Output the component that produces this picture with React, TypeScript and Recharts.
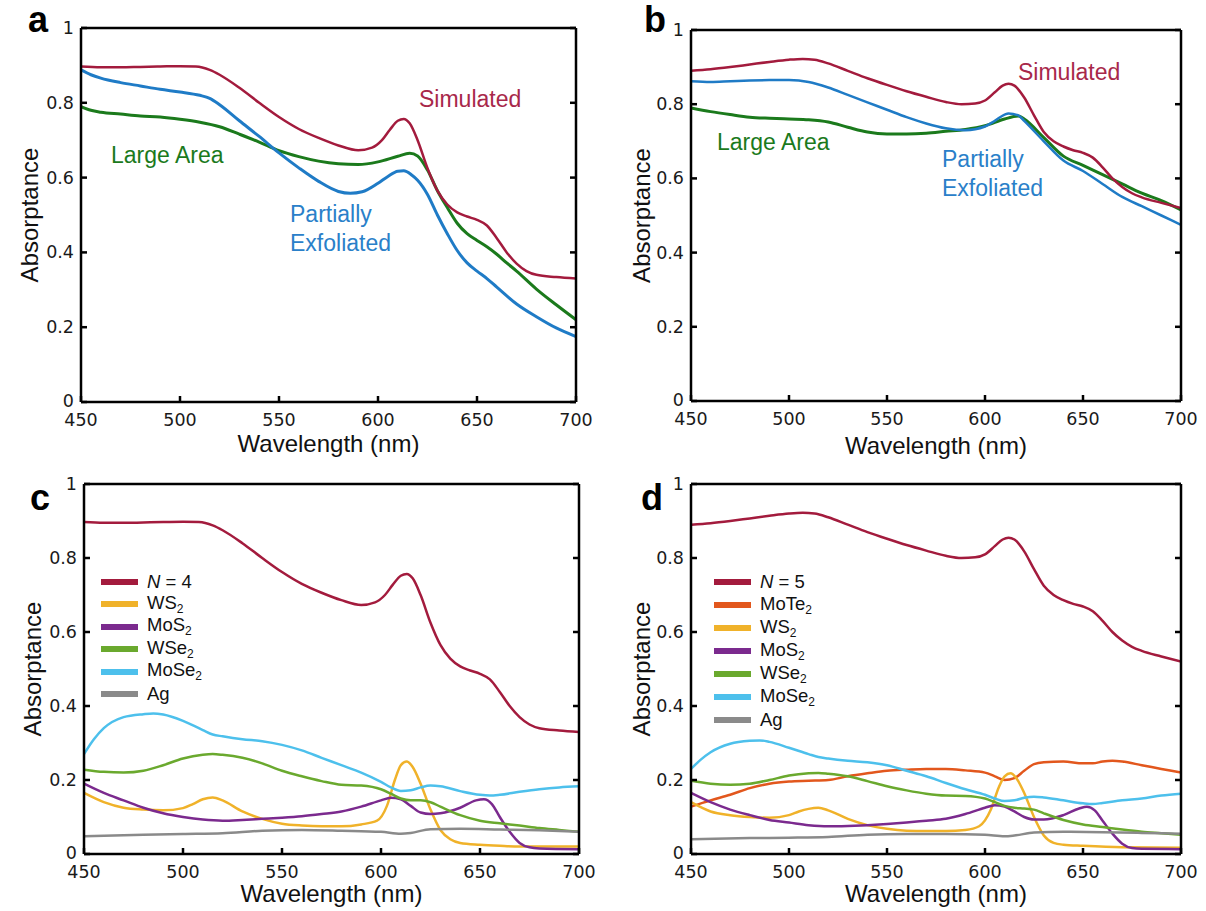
import React from "react";
import { LineChart, Line, XAxis, YAxis, Legend } from "recharts";

type Pt = [number, number];

const WAVELENGTH_TICKS = [450, 500, 550, 600, 650, 700];
const ABS_TICKS = [0, 0.2, 0.4, 0.6, 0.8, 1];

// simulated stacks (shared by a/c and b/d)
const SIM_N4: Pt[] = [
  [450, 0.897], [460, 0.895], [470, 0.895], [480, 0.896], [490, 0.897], [500, 0.898], [508, 0.897],
  [515, 0.888], [520, 0.875], [530, 0.84], [540, 0.8], [550, 0.762], [560, 0.73], [570, 0.706],
  [580, 0.686], [590, 0.673], [597, 0.68], [602, 0.7], [606, 0.728], [610, 0.752], [613, 0.757],
  [616, 0.745], [620, 0.7], [625, 0.625], [630, 0.565], [635, 0.528], [640, 0.507], [645, 0.496],
  [650, 0.487], [655, 0.472], [660, 0.438], [665, 0.4], [670, 0.37], [675, 0.35], [680, 0.34],
  [690, 0.334], [700, 0.33],
];
const SIM_N5: Pt[] = [
  [450, 0.89], [460, 0.894], [470, 0.9], [480, 0.907], [490, 0.914], [500, 0.92], [507, 0.922],
  [513, 0.92], [520, 0.91], [530, 0.89], [540, 0.87], [550, 0.852], [560, 0.835], [570, 0.82],
  [580, 0.806], [588, 0.8], [595, 0.802], [600, 0.81], [605, 0.832], [609, 0.85], [612, 0.855],
  [615, 0.85], [620, 0.818], [625, 0.77], [630, 0.725], [635, 0.7], [640, 0.686], [645, 0.676],
  [650, 0.669], [655, 0.656], [660, 0.63], [665, 0.6], [670, 0.577], [675, 0.56], [680, 0.549],
  [690, 0.534], [700, 0.52],
];

// measured spectra
const LARGE_A: Pt[] = [
  [450, 0.79], [455, 0.78], [460, 0.775], [470, 0.77], [480, 0.765], [490, 0.762], [500, 0.756],
  [510, 0.748], [520, 0.736], [530, 0.716], [540, 0.695], [550, 0.672], [560, 0.656], [570, 0.644],
  [580, 0.637], [590, 0.635], [600, 0.642], [610, 0.657], [616, 0.665], [620, 0.658], [625, 0.62],
  [630, 0.565], [635, 0.52], [640, 0.478], [645, 0.45], [650, 0.432], [655, 0.415], [660, 0.395],
  [665, 0.372], [670, 0.35], [680, 0.302], [690, 0.26], [700, 0.22],
];
const PARTIAL_A: Pt[] = [
  [450, 0.888], [455, 0.875], [460, 0.866], [470, 0.854], [480, 0.845], [490, 0.836], [500, 0.829],
  [510, 0.82], [515, 0.812], [520, 0.795], [530, 0.752], [540, 0.71], [550, 0.666], [560, 0.626],
  [570, 0.59], [580, 0.563], [586, 0.558], [592, 0.562], [600, 0.585], [605, 0.603], [610, 0.617],
  [613, 0.618], [617, 0.607], [620, 0.593], [625, 0.555], [630, 0.5], [635, 0.45], [640, 0.405],
  [645, 0.372], [650, 0.35], [655, 0.33], [660, 0.307], [670, 0.262], [680, 0.228], [690, 0.198],
  [700, 0.175],
];
const LARGE_B: Pt[] = [
  [450, 0.79], [460, 0.78], [470, 0.772], [480, 0.765], [490, 0.762], [500, 0.76], [510, 0.758],
  [520, 0.752], [530, 0.738], [540, 0.725], [550, 0.72], [560, 0.72], [570, 0.722], [580, 0.727],
  [590, 0.732], [600, 0.742], [610, 0.76], [617, 0.768], [620, 0.76], [630, 0.71], [640, 0.66],
  [650, 0.635], [660, 0.61], [670, 0.585], [680, 0.56], [690, 0.54], [700, 0.515],
];
const PARTIAL_B: Pt[] = [
  [450, 0.862], [460, 0.86], [470, 0.862], [480, 0.864], [490, 0.865], [500, 0.865], [510, 0.86],
  [520, 0.845], [530, 0.825], [540, 0.805], [550, 0.785], [560, 0.765], [570, 0.748], [580, 0.735],
  [590, 0.73], [600, 0.74], [605, 0.755], [610, 0.772], [612, 0.775], [617, 0.77], [620, 0.755],
  [630, 0.7], [640, 0.648], [650, 0.62], [660, 0.585], [670, 0.55], [680, 0.525], [690, 0.5],
  [700, 0.475],
];

// per-layer absorption, N = 4
const WS2_C: Pt[] = [
  [450, 0.165], [460, 0.14], [470, 0.125], [480, 0.12], [490, 0.118], [500, 0.124], [505, 0.135],
  [510, 0.148], [515, 0.153], [520, 0.145], [530, 0.115], [540, 0.095], [550, 0.082], [560, 0.077],
  [570, 0.075], [580, 0.075], [590, 0.08], [598, 0.09], [603, 0.13], [607, 0.2], [610, 0.24],
  [613, 0.25], [616, 0.235], [620, 0.19], [625, 0.12], [630, 0.065], [635, 0.04], [640, 0.03],
  [650, 0.025], [660, 0.022], [670, 0.02], [700, 0.02],
];
const MOS2_C: Pt[] = [
  [450, 0.19], [460, 0.165], [470, 0.145], [480, 0.125], [490, 0.11], [500, 0.1], [510, 0.093],
  [520, 0.09], [530, 0.092], [540, 0.095], [550, 0.098], [560, 0.102], [570, 0.108], [580, 0.115],
  [590, 0.128], [600, 0.145], [605, 0.152], [610, 0.148], [615, 0.13], [620, 0.112], [625, 0.108],
  [630, 0.11], [640, 0.125], [648, 0.145], [652, 0.148], [656, 0.135], [660, 0.1], [665, 0.06],
  [670, 0.03], [675, 0.018], [680, 0.015], [700, 0.013],
];
const WSE2_C: Pt[] = [
  [450, 0.228], [460, 0.222], [470, 0.22], [480, 0.225], [490, 0.24], [500, 0.258], [510, 0.268],
  [515, 0.27], [520, 0.268], [530, 0.26], [540, 0.245], [550, 0.225], [560, 0.21], [570, 0.197],
  [580, 0.187], [590, 0.185], [600, 0.175], [605, 0.163], [610, 0.15], [615, 0.145], [620, 0.145],
  [625, 0.14], [630, 0.128], [640, 0.105], [650, 0.09], [660, 0.083], [670, 0.077], [680, 0.07],
  [690, 0.065], [700, 0.06],
];
const MOSE2_C: Pt[] = [
  [450, 0.27], [455, 0.31], [460, 0.34], [470, 0.37], [480, 0.378], [485, 0.38], [490, 0.377],
  [500, 0.36], [510, 0.335], [515, 0.323], [520, 0.318], [530, 0.31], [540, 0.305], [550, 0.295],
  [560, 0.28], [570, 0.26], [580, 0.24], [590, 0.22], [600, 0.195], [605, 0.18], [610, 0.17],
  [615, 0.172], [620, 0.18], [625, 0.185], [630, 0.183], [640, 0.17], [650, 0.16], [655, 0.158],
  [660, 0.16], [670, 0.168], [680, 0.175], [690, 0.18], [700, 0.183],
];
const AG_C: Pt[] = [
  [450, 0.048], [480, 0.052], [500, 0.054], [520, 0.056], [540, 0.063], [560, 0.065], [580, 0.063],
  [600, 0.06], [610, 0.055], [615, 0.057], [625, 0.067], [640, 0.068], [660, 0.066], [680, 0.064],
  [700, 0.06],
];

// per-layer absorption, N = 5
const MOTE2_D: Pt[] = [
  [450, 0.128], [460, 0.145], [470, 0.16], [480, 0.178], [490, 0.19], [500, 0.196], [510, 0.198],
  [520, 0.2], [530, 0.21], [540, 0.218], [550, 0.225], [560, 0.228], [570, 0.23], [580, 0.23],
  [590, 0.226], [600, 0.22], [605, 0.21], [610, 0.2], [615, 0.205], [620, 0.225], [625, 0.243],
  [630, 0.248], [640, 0.25], [650, 0.245], [655, 0.245], [660, 0.25], [665, 0.252], [670, 0.25],
  [680, 0.24], [690, 0.23], [700, 0.22],
];
const WS2_D: Pt[] = [
  [450, 0.14], [460, 0.115], [470, 0.105], [480, 0.1], [490, 0.098], [500, 0.105], [505, 0.115],
  [510, 0.122], [515, 0.125], [520, 0.118], [530, 0.095], [540, 0.078], [550, 0.068], [560, 0.063],
  [570, 0.062], [580, 0.062], [590, 0.065], [597, 0.075], [603, 0.12], [607, 0.18], [610, 0.21],
  [613, 0.218], [616, 0.205], [620, 0.165], [625, 0.1], [630, 0.05], [635, 0.03], [640, 0.025],
  [650, 0.022], [670, 0.018], [700, 0.017],
];
const MOS2_D: Pt[] = [
  [450, 0.165], [460, 0.14], [470, 0.12], [480, 0.105], [490, 0.092], [500, 0.085], [510, 0.078],
  [520, 0.075], [530, 0.076], [540, 0.078], [550, 0.081], [560, 0.085], [570, 0.09], [580, 0.095],
  [590, 0.108], [600, 0.125], [605, 0.132], [610, 0.128], [615, 0.115], [620, 0.1], [625, 0.093],
  [630, 0.093], [640, 0.105], [648, 0.123], [652, 0.128], [656, 0.118], [660, 0.09], [665, 0.055],
  [670, 0.028], [675, 0.016], [680, 0.014], [700, 0.013],
];
const WSE2_D: Pt[] = [
  [450, 0.198], [460, 0.19], [470, 0.187], [480, 0.19], [490, 0.2], [500, 0.212], [510, 0.218],
  [515, 0.219], [520, 0.217], [530, 0.21], [540, 0.197], [550, 0.183], [560, 0.172], [570, 0.163],
  [580, 0.158], [590, 0.157], [600, 0.15], [605, 0.14], [610, 0.13], [615, 0.125], [620, 0.123],
  [625, 0.12], [630, 0.11], [640, 0.092], [650, 0.08], [660, 0.073], [670, 0.066], [680, 0.06],
  [690, 0.056], [700, 0.052],
];
const MOSE2_D: Pt[] = [
  [450, 0.23], [455, 0.255], [460, 0.275], [470, 0.298], [480, 0.306], [485, 0.307], [490, 0.303],
  [500, 0.287], [510, 0.27], [515, 0.262], [520, 0.258], [530, 0.252], [540, 0.248], [550, 0.24],
  [560, 0.225], [570, 0.21], [580, 0.192], [590, 0.175], [600, 0.16], [605, 0.15], [610, 0.143],
  [615, 0.145], [620, 0.152], [625, 0.155], [630, 0.153], [640, 0.145], [650, 0.137], [655, 0.135],
  [660, 0.138], [670, 0.145], [680, 0.15], [690, 0.158], [700, 0.163],
];
const AG_D: Pt[] = [
  [450, 0.04], [480, 0.043], [500, 0.044], [520, 0.046], [540, 0.052], [560, 0.054], [580, 0.054],
  [600, 0.052], [610, 0.048], [615, 0.05], [625, 0.058], [640, 0.06], [660, 0.059], [680, 0.057],
  [700, 0.055],
];

const C = {
  sim: "#a31b3d",
  large: "#1b7a1c",
  partial: "#1f7bc6",
  ws2: "#f0b22a",
  mos2: "#7b2a8e",
  wse2: "#6aa92e",
  mose2: "#4dc0ec",
  ag: "#8a8a8a",
  mote2: "#e2571d",
};

const FONT = '"Liberation Sans", Arial, sans-serif';
const TICK_FONT = '"DejaVu Sans", sans-serif';
const TICK = 6; // inward tick length
const YW = 60;
const XH = 50;
const FRAME = { stroke: "#000", strokeWidth: 2.5 };
const TICK_LINE = { stroke: "#000", strokeWidth: 2.5 };

type Series = { name: string; color: string; points: Pt[]; width?: number };
type Note = { text: string; x: number; y: number; color: string };
type Box = { left: number; top: number; width: number; height: number };
type PanelProps = {
  letter: string;
  letterPos: [number, number];
  frame: Box;
  plot: { x0: number; y0: number; x1: number; y1: number };
  series: Series[];
  notes?: Note[];
  legendAt?: [number, number];
  legendRow?: number;
  yTitleX: number;
  xTitleY: number;
};

const toRows = (pts: Pt[]) => pts.map(([x, y]) => ({ x, y }));

// with a negative tickSize the tick lines point into the plot, so the
// label anchor handed to these sits TICK px inside the frame
const BottomTick = (p: any) => (
  <text x={p.x} y={p.y + TICK + 24} textAnchor="middle" fontSize={17.5} fontFamily={TICK_FONT} fill="#1a1a1a">
    {p.payload.value}
  </text>
);
const LeftTick = (p: any) => (
  <text
    x={p.x - TICK - 7}
    y={p.y + (p.payload.value === 0 ? 5 : 6)}
    textAnchor="end"
    fontSize={17.5}
    fontFamily={TICK_FONT}
    fill="#1a1a1a"
  >
    {String(p.payload.value)}
  </text>
);
// top / right frame: tick marks only (tick={false} would drop the marks too)
const NoLabel = () => <g />;

function formatName(name: string) {
  const n = name.match(/^N = (\d)$/);
  if (n) {
    return (
      <>
        <i>N</i> = {n[1]}
      </>
    );
  }
  if (name.endsWith("2")) {
    return (
      <>
        {name.slice(0, -1)}
        <sub style={{ fontSize: 12, verticalAlign: -4 }}>2</sub>
      </>
    );
  }
  return name;
}

const makeLegend = (series: Series[], row: number) => () => (
  <div style={{ fontFamily: FONT, fontSize: 18.5, color: "#111" }}>
    {series.map((s) => (
      <div key={s.name} style={{ display: "flex", alignItems: "center", height: row }}>
        <span style={{ display: "inline-block", width: 37, height: 6, background: s.color, marginRight: 9 }} />
        <span style={{ lineHeight: 1 }}>{formatName(s.name)}</span>
      </div>
    ))}
  </div>
);

function Panel({ letter, letterPos, frame, plot, series, notes = [], legendAt, legendRow = 22.5, yTitleX, xTitleY }: PanelProps) {
  // the top / right axes are 1px boxes that only carry the frame and its ticks
  const margin = {
    top: plot.y0 - frame.top - 1,
    right: frame.left + frame.width - plot.x1 - 1,
    bottom: frame.top + frame.height - plot.y1 - XH,
    left: plot.x0 - frame.left - YW,
  };
  const titleStyle = { fontFamily: FONT, fontSize: 24, fill: "#111" };
  return (
    <div style={{ position: "absolute", left: frame.left, top: frame.top }}>
      <LineChart width={frame.width} height={frame.height} margin={margin}>
        <XAxis
          type="number"
          dataKey="x"
          domain={[450, 700]}
          ticks={WAVELENGTH_TICKS}
          allowDataOverflow
          height={XH}
          tickSize={-TICK}
          tickMargin={0}
          tickLine={TICK_LINE}
          tick={BottomTick}
          axisLine={FRAME}
          label={{
            value: "Wavelength (nm)",
            position: "insideBottom",
            offset: plot.y1 + XH - xTitleY,
            style: titleStyle,
          }}
        />
        <XAxis
          xAxisId="top"
          orientation="top"
          type="number"
          domain={[450, 700]}
          ticks={WAVELENGTH_TICKS}
          allowDataOverflow
          height={1}
          tickSize={-TICK}
          tickMargin={0}
          tickLine={TICK_LINE}
          tick={NoLabel}
          axisLine={FRAME}
        />
        <YAxis
          type="number"
          domain={[0, 1]}
          ticks={ABS_TICKS}
          allowDataOverflow
          width={YW}
          tickSize={-TICK}
          tickMargin={0}
          tickLine={TICK_LINE}
          tick={LeftTick}
          axisLine={FRAME}
          label={{
            value: "Absorptance",
            angle: -90,
            position: "insideLeft",
            offset: yTitleX - (plot.x0 - YW),
            style: { ...titleStyle, textAnchor: "middle" },
          }}
        />
        <YAxis
          yAxisId="right"
          orientation="right"
          type="number"
          domain={[0, 1]}
          ticks={ABS_TICKS}
          allowDataOverflow
          width={1}
          tickSize={-TICK}
          tickMargin={0}
          tickLine={TICK_LINE}
          tick={NoLabel}
          axisLine={FRAME}
        />
        {series.map((s) => (
          <Line
            key={s.name}
            name={s.name}
            data={toRows(s.points)}
            dataKey="y"
            type="monotone"
            stroke={s.color}
            strokeWidth={s.width ?? 2.5}
            dot={false}
            activeDot={false}
            isAnimationActive={false}
          />
        ))}
        {legendAt && (
          <Legend
            layout="vertical"
            align="center"
            verticalAlign="middle"
            content={makeLegend(series, legendRow)}
            wrapperStyle={{
              left: legendAt[0] - frame.left,
              top: legendAt[1] - frame.top - legendRow / 2,
              width: "auto",
              height: "auto",
            }}
          />
        )}
        {notes.map((n) => (
          <text
            key={n.text}
            x={n.x - frame.left}
            y={n.y - frame.top}
            fill={n.color}
            fontFamily={FONT}
            fontSize={23}
          >
            {n.text}
          </text>
        ))}
        <text
          x={letterPos[0] - frame.left}
          y={letterPos[1] - frame.top}
          fontFamily={FONT}
          fontWeight="bold"
          fontSize={36}
          fill="#000"
        >
          {letter}
        </text>
      </LineChart>
    </div>
  );
}

const SERIES_C: Series[] = [
  { name: "N = 4", color: C.sim, points: SIM_N4 },
  { name: "WS2", color: C.ws2, points: WS2_C },
  { name: "MoS2", color: C.mos2, points: MOS2_C },
  { name: "WSe2", color: C.wse2, points: WSE2_C },
  { name: "MoSe2", color: C.mose2, points: MOSE2_C },
  { name: "Ag", color: C.ag, points: AG_C },
];
const SERIES_D: Series[] = [
  { name: "N = 5", color: C.sim, points: SIM_N5 },
  { name: "MoTe2", color: C.mote2, points: MOTE2_D },
  { name: "WS2", color: C.ws2, points: WS2_D },
  { name: "MoS2", color: C.mos2, points: MOS2_D },
  { name: "WSe2", color: C.wse2, points: WSE2_D },
  { name: "MoSe2", color: C.mose2, points: MOSE2_D },
  { name: "Ag", color: C.ag, points: AG_D },
];

export default function App() {
  return (
    <div style={{ position: "absolute", left: 0, top: 0, width: 1206, height: 911, background: "#fff" }}>
      <Panel
        letter="a"
        letterPos={[28, 32]}
        frame={{ left: 0, top: 0, width: 603, height: 460 }}
        plot={{ x0: 81, y0: 28, x1: 576, y1: 402 }}
        yTitleX={29}
        xTitleY={452}
        series={[
          { name: "Large Area", color: C.large, points: LARGE_A, width: 3 },
          { name: "Partially Exfoliated", color: C.partial, points: PARTIAL_A, width: 3 },
          { name: "Simulated", color: C.sim, points: SIM_N4 },
        ]}
        notes={[
          { text: "Simulated", x: 419, y: 107, color: "#a8284a" },
          { text: "Large Area", x: 111, y: 163, color: C.large },
          { text: "Partially", x: 290, y: 222, color: "#2a80c9" },
          { text: "Exfoliated", x: 290, y: 251, color: "#2a80c9" },
        ]}
      />
      <Panel
        letter="b"
        letterPos={[644, 32]}
        frame={{ left: 603, top: 0, width: 603, height: 460 }}
        plot={{ x0: 691, y0: 30, x1: 1181, y1: 401 }}
        yTitleX={641}
        xTitleY={454}
        series={[
          { name: "Large Area", color: C.large, points: LARGE_B, width: 3 },
          { name: "Partially Exfoliated", color: C.partial, points: PARTIAL_B },
          { name: "Simulated", color: C.sim, points: SIM_N5 },
        ]}
        notes={[
          { text: "Simulated", x: 1018, y: 80, color: "#a8284a" },
          { text: "Large Area", x: 717, y: 150, color: C.large },
          { text: "Partially", x: 942, y: 167, color: "#2a80c9" },
          { text: "Exfoliated", x: 942, y: 196, color: "#2a80c9" },
        ]}
      />
      <Panel
        letter="c"
        letterPos={[30, 510]}
        frame={{ left: 0, top: 460, width: 603, height: 451 }}
        plot={{ x0: 84, y0: 484, x1: 579, y1: 854 }}
        yTitleX={32}
        xTitleY={902}
        legendAt={[101, 582]}
        legendRow={22.4}
        series={SERIES_C}
      />
      <Panel
        letter="d"
        letterPos={[641, 510]}
        frame={{ left: 603, top: 460, width: 603, height: 451 }}
        plot={{ x0: 691, y0: 484, x1: 1181, y1: 854 }}
        yTitleX={641}
        xTitleY={902}
        legendAt={[714, 582]}
        legendRow={23}
        series={SERIES_D}
      />
    </div>
  );
}
